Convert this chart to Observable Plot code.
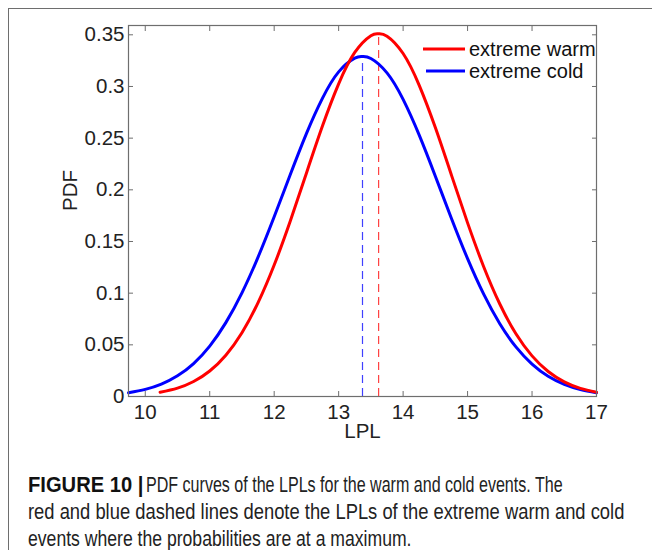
<!DOCTYPE html>
<html>
<head>
<meta charset="utf-8">
<script src="https://cdn.jsdelivr.net/npm/d3@7"></script>
<script src="https://cdn.jsdelivr.net/npm/@observablehq/plot@0.6"></script>
<style>
  html, body { margin: 0; padding: 0; background: #fff; overflow: hidden; width: 652px; height: 550px; }
  #frame { position: absolute; left: 8px; top: 8px; width: 700px; height: 600px; border-top: 1.5px solid #6e6e6e; border-left: 1.5px solid #6e6e6e; }
  #chart { position: absolute; left: 0; top: 0; }
  .cap { position: absolute; left: 28px; font-family: "Liberation Sans", Arial, sans-serif; font-size: 22px; line-height: 22px; height: 22px; color: #222; white-space: nowrap; transform-origin: left center; }
  .cap b { font-weight: bold; color: #111; }
</style>
</head>
<body>
<div id="frame"></div>
<div id="chart"></div>
<div class="cap" style="top:474px; transform: scaleX(0.916)"><b>FIGURE 10 |</b></div>
<div class="cap" style="top:474px; left:146px; transform: scaleX(0.73)">PDF curves of the LPLs for the warm and cold events. The</div>
<div class="cap" style="top:501px; transform: scaleX(0.835)">red and blue dashed lines denote the LPLs of the extreme warm and cold</div>
<div class="cap" style="top:528px; transform: scaleX(0.80)">events where the probabilities are at a maximum.</div>
<script>
// ---- data ----
const seriesNames = ["extreme warm", "extreme cold"];
const seriesColors = ["#ff0000", "#0000ff"];

const warmLPL = [10.23, 10.5, 10.75, 11, 11.25, 11.5, 11.75, 12, 12.25, 12.5, 12.75, 13, 13.25, 13.5, 13.62, 13.75, 14, 14.25, 14.5, 14.75, 15, 15.25, 15.5, 15.75, 16, 16.25, 16.5, 16.75, 17];
const warmPDF = [0.0041, 0.0081, 0.0145, 0.0247, 0.0400, 0.0617, 0.0908, 0.1272, 0.1698, 0.2161, 0.2619, 0.3025, 0.3329, 0.3491, 0.351, 0.3487, 0.3319, 0.3011, 0.2602, 0.2142, 0.1680, 0.1256, 0.0895, 0.0607, 0.0393, 0.0242, 0.0142, 0.0079, 0.0042];

const coldLPL = [9.74, 10, 10.25, 10.5, 10.75, 11, 11.25, 11.5, 11.75, 12, 12.25, 12.5, 12.75, 13, 13.25, 13.37, 13.5, 13.75, 14, 14.25, 14.5, 14.75, 15, 15.25, 15.5, 15.75, 16, 16.25, 16.5, 16.75, 17];
const coldPDF = [0.0037, 0.0069, 0.0120, 0.0200, 0.0319, 0.0488, 0.0715, 0.1003, 0.1349, 0.1739, 0.2148, 0.2544, 0.2887, 0.3141, 0.3274, 0.329, 0.3271, 0.3132, 0.2875, 0.2529, 0.2132, 0.1723, 0.1334, 0.0990, 0.0704, 0.0480, 0.0314, 0.0196, 0.0118, 0.0068, 0.0037];

const peakLPL = [13.62, 13.37];
const peakPDF = [0.351, 0.329];

const xTicks = [10, 11, 12, 13, 14, 15, 16, 17];
const yTicks = [0, 0.05, 0.1, 0.15, 0.2, 0.25, 0.3, 0.35];
const yTickLabels = ["0", "0.05", "0.1", "0.15", "0.2", "0.25", "0.3", "0.35"];
const xLabel = "LPL";
const yLabel = "PDF";

// ---- tables ----
const warm = warmLPL.map((x, i) => ({x, y: warmPDF[i]}));
const cold = coldLPL.map((x, i) => ({x, y: coldPDF[i]}));
const peaks = peakLPL.map((x, i) => ({x, y: peakPDF[i], c: seriesColors[i]}));

const font = "'Liberation Sans', Arial, Helvetica, sans-serif";
const blank = () => "";

const chart = Plot.plot({
  width: 652,
  height: 460,
  marginLeft: 128,
  marginRight: 56,
  marginTop: 25,
  marginBottom: 64,
  style: {fontFamily: font, fontSize: "20px", color: "#222", background: "transparent", overflow: "visible"},
  x: {type: "linear", domain: [9.74, 17]},
  y: {type: "linear", domain: [0, 0.359]},
  marks: [
    Plot.axisX(xTicks, {anchor: "bottom", tickSize: 0, tickPadding: 8, label: null, fontSize: 20.5}),
    Plot.axisY(yTicks, {anchor: "left", tickSize: 0, tickPadding: 4, label: null, fontSize: 20.5, tickFormat: (d) => yTickLabels[yTicks.indexOf(d)]}),
    Plot.axisX(xTicks, {anchor: "bottom", tickSize: 5, dy: -5, tickFormat: blank, label: null, stroke: "#6e6e6e"}),
    Plot.axisX(xTicks, {anchor: "top", tickSize: 5, dy: 5, tickFormat: blank, label: null, stroke: "#6e6e6e"}),
    Plot.axisY(yTicks, {anchor: "left", tickSize: 5, dx: 5, tickFormat: blank, label: null, stroke: "#6e6e6e"}),
    Plot.axisY(yTicks, {anchor: "right", tickSize: 5, dx: -5, tickFormat: blank, label: null, stroke: "#6e6e6e"}),
    Plot.ruleX(peaks, {x: "x", y1: 0, y2: "y", stroke: "c", strokeWidth: 1.2, strokeDasharray: "8,5", strokeOpacity: 0.75}),
    Plot.line(cold, {x: "x", y: "y", stroke: seriesColors[1], strokeWidth: 3, curve: "natural"}),
    Plot.line(warm, {x: "x", y: "y", stroke: seriesColors[0], strokeWidth: 3, curve: "natural"}),
    Plot.frame({stroke: "#6e6e6e", strokeWidth: 1.2}),
    Plot.text([xLabel], {frameAnchor: "bottom", dy: 41, fontSize: 20.5, fill: "#222"}),
    Plot.text([yLabel], {frameAnchor: "left", dx: -58, rotate: -90, fontSize: 20.5, fill: "#222"})
  ]
});
document.getElementById("chart").appendChild(chart);

// legend (top-right, inside the plot frame)
const svg = d3.select(chart);
const lg = svg.append("g").attr("font-family", font).attr("font-size", 20).attr("fill", "#111").attr("text-anchor", "start");
seriesNames.forEach((name, i) => {
  const y = 49 + i * 22;
  lg.append("line").attr("x1", i === 0 ? 423 : 426).attr("x2", 465).attr("y1", y).attr("y2", y)
    .attr("stroke", seriesColors[i]).attr("stroke-width", 3);
  lg.append("text").attr("x", 469).attr("y", y).attr("dy", "0.35em").attr("text-anchor", "start").text(name);
});
</script>
</body>
</html>
